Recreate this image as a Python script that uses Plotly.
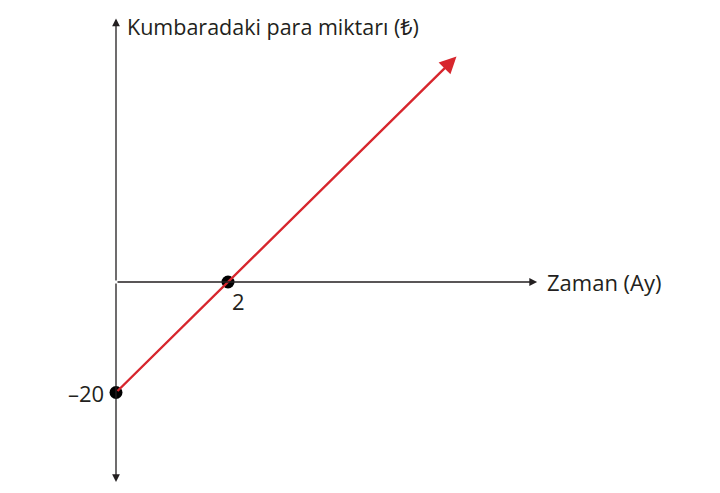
import plotly.graph_objects as go

# values
months = [0, 2]                 # marked points on the time axis
money = [-20, 0]                # money in the piggy bank at those months
tick_labels = ["–20", "2"]
line_end = [6.08, 40.8]         # where the red arrow stops (month, lira)
y_axis_span = [-36.2, 47.7]
x_axis_end = 7.52

INK = "#231f20"
RED = "#d7262d"
FONT = "Open Sans, Noto Sans, DejaVu Sans"

# the page body adds an 8px offset, so the origin sits at (108, 274) in figure pixels
X0, Y0 = 108, 274
PX_PER_MONTH, PX_PER_LIRA = 56, 5.525

fig = go.Figure()

# red line with its arrowhead
fig.add_annotation(
    x=line_end[0], y=line_end[1], ax=months[0], ay=money[0],
    xref="x", yref="y", axref="x", ayref="y",
    text="", showarrow=True, arrowhead=2, arrowsize=1.4, arrowwidth=2.4,
    arrowcolor=RED, standoff=0, startstandoff=0,
)

# vertical axis (arrows at both ends)
for y_end in y_axis_span:
    fig.add_annotation(
        x=0, y=y_end, ax=0, ay=0, xref="x", yref="y", axref="x", ayref="y",
        text="", showarrow=True, arrowhead=2, arrowsize=1.2, arrowwidth=1.3,
        arrowcolor=INK, standoff=0,
    )

# horizontal axis
fig.add_annotation(
    x=x_axis_end, y=0, ax=0, ay=0, xref="x", yref="y", axref="x", ayref="y",
    text="", showarrow=True, arrowhead=2, arrowsize=1.2, arrowwidth=1.3,
    arrowcolor=INK, standoff=0,
)

# the two marked points
fig.add_trace(go.Scatter(
    x=months, y=money, mode="markers",
    marker=dict(color="black", size=13),
    hoverinfo="skip", showlegend=False,
))

# point labels
fig.add_annotation(x=months[0], y=money[0], text=tick_labels[0], showarrow=False,
                   xanchor="right", yanchor="middle", xshift=-10,
                   font=dict(family=FONT, size=22, color=INK))
fig.add_annotation(x=months[1], y=money[1], text=tick_labels[1], showarrow=False,
                   xanchor="left", yanchor="top", xshift=2, yshift=-2,
                   font=dict(family=FONT, size=22, color=INK))

# axis titles
fig.add_annotation(x=0, y=y_axis_span[1], text="Kumbaradaki para miktarı (₺)",
                   showarrow=False, xanchor="left", yanchor="middle",
                   xshift=9, yshift=-8,
                   font=dict(family=FONT, size=21.5, color=INK))
fig.add_annotation(x=x_axis_end, y=0, text="Zaman (Ay)", showarrow=False,
                   xanchor="left", yanchor="middle", xshift=8,
                   font=dict(family=FONT, size=22, color=INK))

fig.update_layout(
    width=720, height=493,
    margin=dict(l=0, r=0, t=0, b=0),
    paper_bgcolor="white", plot_bgcolor="white",
    xaxis=dict(range=[-X0 / PX_PER_MONTH, (720 - X0) / PX_PER_MONTH],
               visible=False, fixedrange=True),
    yaxis=dict(range=[-(493 - Y0) / PX_PER_LIRA, Y0 / PX_PER_LIRA],
               visible=False, fixedrange=True),
)

fig.write_html("out.html")
